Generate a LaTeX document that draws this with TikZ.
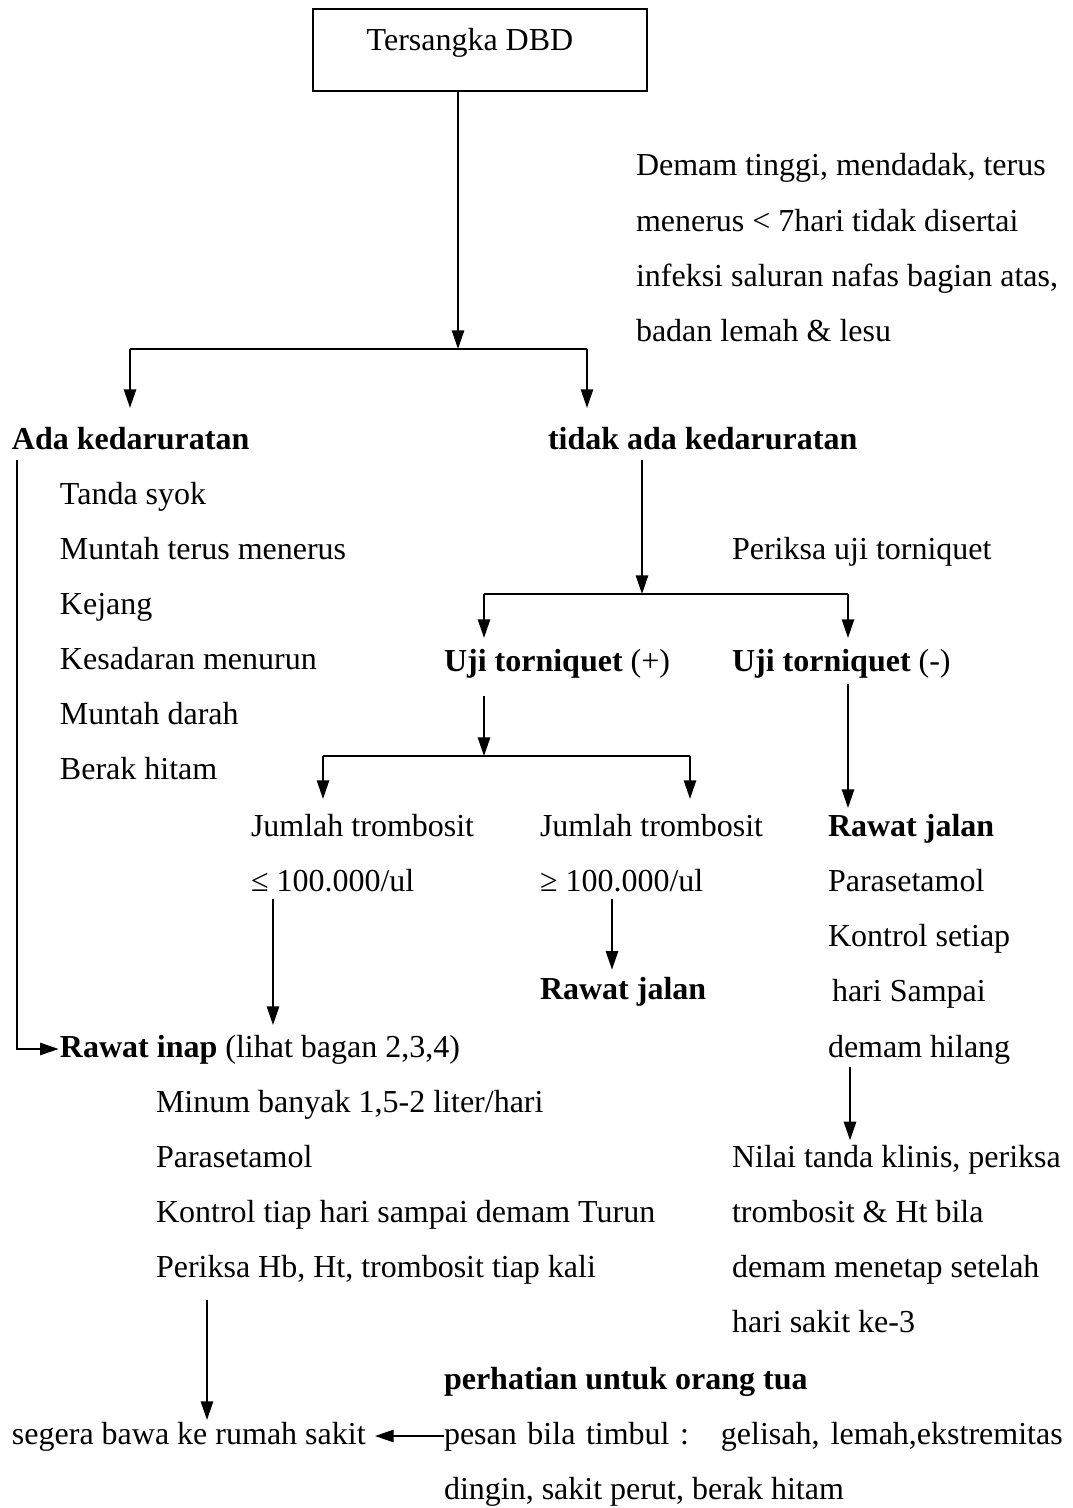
\documentclass[tikz,border=0pt]{standalone}
\usepackage{fontspec}
\setmainfont{Liberation Serif}
\usetikzlibrary{arrows.meta}
\begin{document}
\begin{tikzpicture}[x=0.375pt,y=-0.375pt,
  every node/.style={inner sep=0pt, outer sep=0pt, text height=9pt, text depth=3pt,
    font=\fontsize{12pt}{14pt}\selectfont},
  txt/.style={anchor=base west},
  bld/.style={anchor=base west, font=\fontsize{12pt}{14pt}\selectfont\bfseries},
  ln/.style={line width=0.75pt},
  arr/.style={line width=0.75pt, -{Triangle[length=7pt,width=4.6pt]}},
  boxstyle/.style={draw, line width=0.75pt, minimum width=125.25pt, minimum height=30.75pt,
    text height=, text depth=}]
\useasboundingbox (0,0) rectangle (1073,1508);

% top box
\node[boxstyle] (top) at (480,50) {};
\node[anchor=base] (toptext) at (470,50) {Tersangka DBD};

% description beside the first arrow
\node[txt] (d1) at (636,175) {Demam tinggi, mendadak, terus};
\node[txt] (d2) at (636,231) {menerus < 7hari tidak disertai};
\node[txt] (d3) at (636,286) {infeksi saluran nafas bagian atas,};
\node[txt] (d4) at (636,341) {badan lemah \& lesu};

% first split
\coordinate (j1) at (458,349);
\coordinate (j1l) at (130,349);
\coordinate (j1r) at (587,349);
\node[bld] (ada) at (12,449) {Ada kedaruratan};
\node[bld] (tidak) at (548,449) {tidak ada kedaruratan};

\draw[arr] (top.south -| j1) -- (j1);
\draw[ln] (j1l) -- (j1r);
\draw[arr, shorten >=6.4pt] (j1l) -- (j1l |- ada.north);
\draw[arr, shorten >=6.4pt] (j1r) -- (j1r |- tidak.north);

% emergency signs
\node[txt] (e1) at (60,504) {Tanda syok};
\node[txt] (e2) at (60,559) {Muntah terus menerus};
\node[txt] (e3) at (60,614) {Kejang};
\node[txt] (e4) at (60,669) {Kesadaran menurun};
\node[txt] (e5) at (60,724) {Muntah darah};
\node[txt] (e6) at (60,779) {Berak hitam};

% tourniquet test
\coordinate (j2) at (642,594);
\coordinate (j2l) at (484,594);
\coordinate (j2r) at (848,594);
\node[txt] (periksauji) at (732,559) {Periksa uji torniquet};
\node[txt] (ujip) at (444,671) {\bfseries Uji torniquet \mdseries(+)};
\node[txt] (ujim) at (732,671) {\bfseries Uji torniquet \mdseries(-)};

\draw[arr, shorten <=1pt] (tidak.south -| j2) -- (j2);
\draw[ln] (j2l) -- (j2r);
\draw[arr, shorten >=3.4pt] (j2l) -- (j2l |- ujip.north);
\draw[arr, shorten >=3.4pt] (j2r) -- (j2r |- ujim.north);

% platelet count
\coordinate (j3) at (484,756);
\coordinate (j3l) at (323,756);
\coordinate (j3r) at (690,756);
\node[txt] (jl) at (251,836) {Jumlah trombosit};
\node[txt] (le) at (251,891) {≤ 100.000/ul};
\node[txt] (jr) at (540,836) {Jumlah trombosit};
\node[txt] (ge) at (540,891) {≥ 100.000/ul};
\node[bld] (rjmid) at (540,999) {Rawat jalan};

\draw[arr, shorten <=6.4pt] (ujip.south -| j3) -- (j3);
\draw[ln] (j3l) -- (j3r);
\draw[arr, shorten >=4.9pt] (j3l) -- (j3l |- jl.north);
\draw[arr, shorten >=4.9pt] (j3r) -- (j3r |- jr.north);
\draw[arr, shorten >=2pt] (612,0 |- ge.south) -- (612,0 |- rjmid.north);

% outpatient branch
\node[bld] (rj) at (828,836) {Rawat jalan};
\node[txt] (r1) at (828,891) {Parasetamol};
\node[txt] (r2) at (828,946) {Kontrol setiap};
\node[txt] (r3) at (832,1001) {hari Sampai};
\node[txt] (r4) at (828,1057) {demam hilang};
\node[txt] (n1) at (732,1167) {Nilai tanda klinis, periksa};
\node[txt] (n2) at (732,1222) {trombosit \& Ht bila};
\node[txt] (n3) at (732,1277) {demam menetap setelah};
\node[txt] (n4) at (732,1332) {hari sakit ke-3};

\draw[arr, shorten <=2pt, shorten >=1.5pt] (848,0 |- ujim.south) -- (848,0 |- rj.north);
\draw[arr, shorten <=0.75pt, shorten >=1pt] (850,0 |- r4.south) -- (850,0 |- n1.north);

% inpatient branch
\node[txt] (inap) at (60,1057) {\bfseries Rawat inap \mdseries(lihat bagan 2,3,4)};
\node[txt] (i1) at (156,1112) {Minum banyak 1,5-2 liter/hari};
\node[txt] (i2) at (156,1167) {Parasetamol};
\node[txt] (i3) at (156,1222) {Kontrol tiap hari sampai demam Turun};
\node[txt] (i4) at (156,1277) {Periksa Hb, Ht, trombosit tiap kali};

\draw[arr, shorten >=3pt] (273,0 |- le.south) -- (273,0 |- inap.north);
\coordinate (l0) at (17,460);
\draw[arr, shorten >=0.5pt] (l0) |- (inap.west);

% advice for parents
\node[bld] (perhatian) at (444,1389) {perhatian untuk orang tua};
\node[txt] (segera) at (12,1444) {segera bawa ke rumah sakit};
\node[txt] (pesan) at (444,1444) {\makebox[232pt][s]{pesan bila timbul :\ \ \ gelisah, lemah,ekstremitas}};
\node[txt] (dingin) at (444,1499) {dingin, sakit perut, berak hitam};

\draw[arr, shorten <=5.5pt] (207,0 |- i4.south) -- (207,0 |- segera.north);
\draw[arr, shorten >=3.5pt] (pesan.west) -- (segera.east);
\end{tikzpicture}
\end{document}
